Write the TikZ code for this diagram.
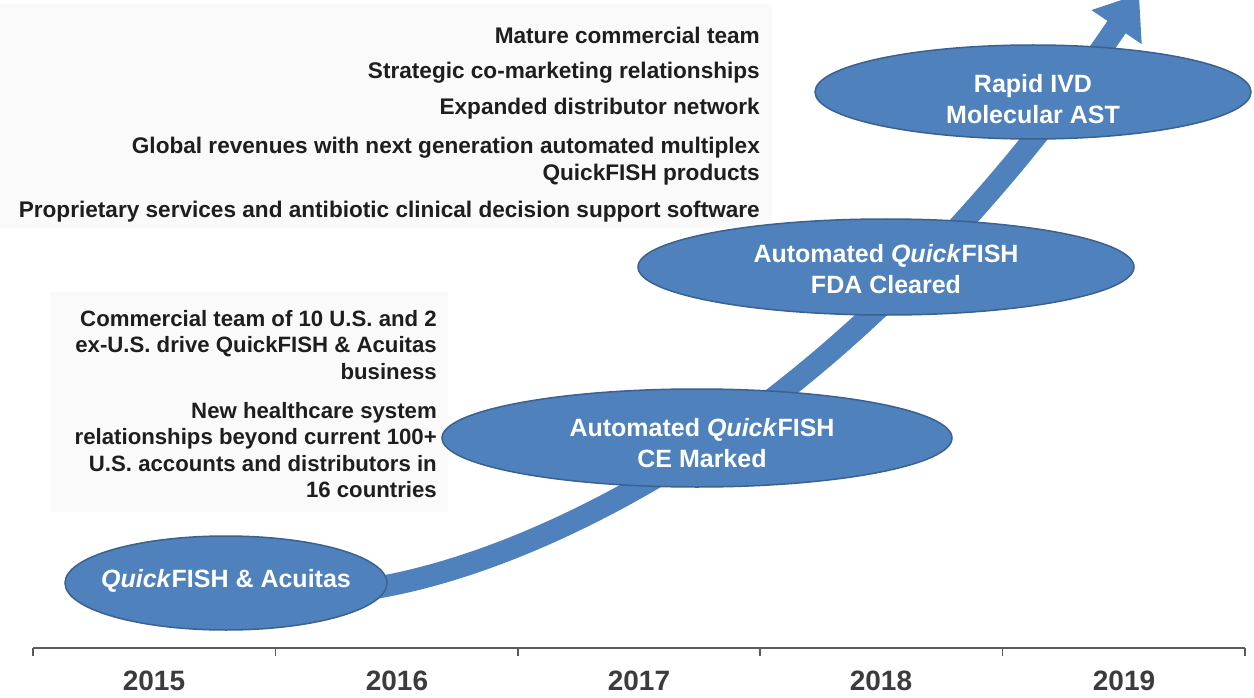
\documentclass[tikz,border=0pt]{standalone}
\usepackage{fontspec}
\setmainfont{Liberation Sans}
\usetikzlibrary{shapes.geometric,arrows.meta}
\definecolor{ablue}{HTML}{4F81BD}
\definecolor{aborder}{HTML}{3A6190}
\definecolor{txt}{HTML}{1E1E1E}
\definecolor{yeartxt}{HTML}{3C3C3C}
\definecolor{boxfill}{HTML}{FAFAFA}
\definecolor{axiscol}{HTML}{5A5A5A}
\begin{document}
\begin{tikzpicture}[x=1pt,y=-1pt,
  milestone/.style={ellipse, fill=ablue, draw=aborder, line width=1.5pt, inner sep=0pt},
  mtext/.style={text=white, font=\bfseries\fontsize{25}{31}\selectfont, align=center, inner sep=0pt},
  note/.style={anchor=east, align=right, text=txt, font=\bfseries\fontsize{22.6}{26.5}\selectfont, inner sep=0pt},
  lnote/.style={anchor=east, align=right, text=txt, font=\bfseries\fontsize{22.2}{26.5}\selectfont, inner sep=0pt},
  yearlabel/.style={text=yeartxt, font=\bfseries\fontsize{28}{32}\selectfont},
  axisline/.style={draw=axiscol, line width=1.6pt},
  growth/.style={draw=ablue, line width=22pt, -{Triangle[length=40pt,width=58pt]}}]

\useasboundingbox (0,0) rectangle (1254,698);
\clip (0,0) rectangle (1254,698);
\fill[white] (0,0) rectangle (1254,698);
\fill[boxfill] (0,4) rectangle (772,228);
\fill[boxfill] (50,292) rectangle (448,512);

% growth arrow
\coordinate (s) at (375,588);
\coordinate (m) at (780,393);
\coordinate (t) at (1139,-6);
\draw[growth] (s) .. controls (515,564) and (670,479) .. (m) .. controls (922,282) and (1038,143) .. (t);

% milestones
\node[milestone, minimum width=322pt, minimum height=94pt] (e1) at (226,583) {};
\node[milestone, minimum width=510pt, minimum height=98pt] (e2) at (697,438) {};
\node[milestone, minimum width=496pt, minimum height=96pt] (e3) at (886,267) {};
\node[milestone, minimum width=436pt, minimum height=94pt] (e4) at (1033,92) {};
\node[mtext] (t1) at (226,581) {\textit{Quick}FISH \& Acuitas};
\node[mtext] (t2) at (702,443) {Automated \textit{Quick}FISH\\CE Marked};
\node[mtext] (t3) at (886,269) {Automated \textit{Quick}FISH\\FDA Cleared};
\node[mtext] (t4) at (1033,99) {Rapid IVD\\Molecular AST};

% notes
\node[note] (n1) at (760,35) {Mature commercial team};
\node[note] (n2) at (760,73) {Strategic co-marketing relationships};
\node[note] (n3) at (760,109) {Expanded distributor network};
\node[note] (n4) at (760,161) {Global revenues with next generation automated multiplex\\QuickFISH products};
\node[note] (n5) at (760,212) {Proprietary services and antibiotic clinical decision support software};
\node[lnote] (l1) at (437,345) {Commercial team of 10 U.S. and 2\\ex-U.S. drive QuickFISH \& Acuitas\\business};
\node[lnote] (l2) at (437,450) {New healthcare system\\relationships beyond current 100+\\U.S. accounts and distributors in\\16 countries};

% axis
\foreach \i in {0,...,5} \coordinate (k\i) at ({33+242.4*\i},648);
\draw[axisline] (k0) -- (k5);
\foreach \i in {0,...,5} \draw[axisline] (k\i) -- ++(0,8);
\node[yearlabel] (y1) at (154,681) {2015};
\node[yearlabel] (y2) at (397,681) {2016};
\node[yearlabel] (y3) at (639,681) {2017};
\node[yearlabel] (y4) at (881,681) {2018};
\node[yearlabel] (y5) at (1124,681) {2019};
\end{tikzpicture}
\end{document}
